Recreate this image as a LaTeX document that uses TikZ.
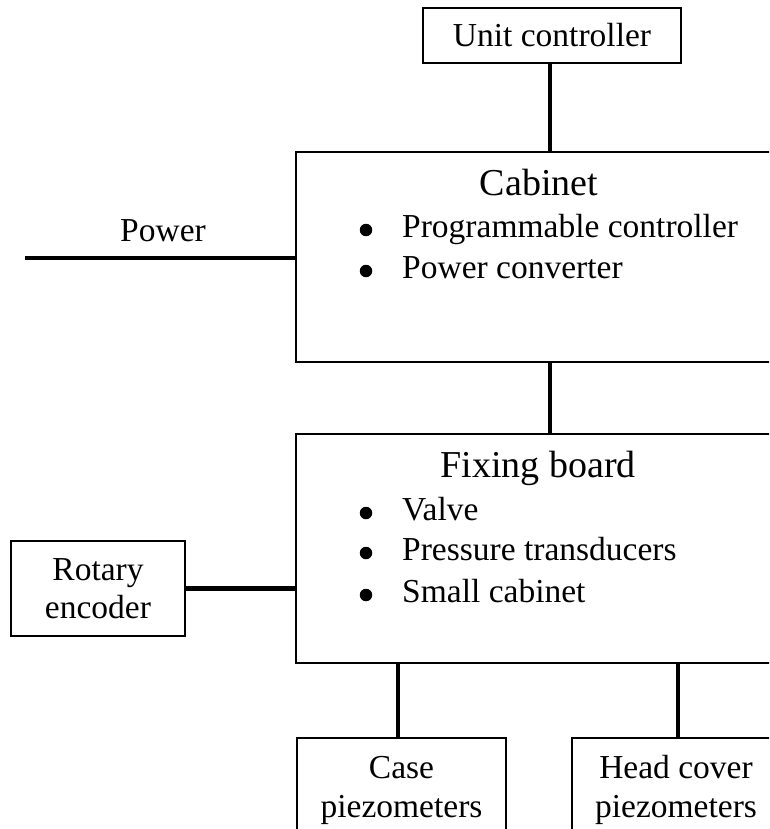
\documentclass[tikz,border=0pt]{standalone}
\usepackage{fontspec}
\setmainfont{Liberation Serif}
\begin{document}
\begin{tikzpicture}[x=1pt,y=-1pt,
  box/.style={draw,line width=1.6pt,rectangle,inner sep=0pt},
  conn/.style={line width=4.5pt},
  txt/.style={inner sep=0pt,anchor=base,font=\fontsize{33.5}{40}\selectfont},
  ttl/.style={inner sep=0pt,anchor=base,font=\fontsize{38}{44}\selectfont},
  itm/.style={inner sep=0pt,anchor=base west,font=\fontsize{33.5}{40}\selectfont},
  bul/.style={circle,fill,inner sep=0pt,minimum size=12.5pt}]
\useasboundingbox (0,0) rectangle (769,829);
\clip (0,0) rectangle (769,829);
% boxes
\node[box,minimum width=258pt,minimum height=55pt] (uc) at (552,35.5) {};
\node[box,minimum width=488pt,minimum height=210pt] (cab) at (540,257) {};
\node[box,minimum width=488pt,minimum height=229pt] (fix) at (540,548.5) {};
\node[box,minimum width=174pt,minimum height=95pt] (rot) at (98,588.5) {};
\node[box,minimum width=209pt,minimum height=120pt] (case) at (401.5,798) {};
\node[box,minimum width=212pt,minimum height=120pt] (head) at (678,798) {};
\coordinate (pw) at (25,258);
% texts
\node[txt] (tuc) at (552,47) {Unit controller};
\node[ttl] (tcab) at (539,195) {Cabinet};
\node[bul] (b1) at (366,230) {};
\node[itm] (i1) at (402,237) {Programmable controller};
\node[bul] (b2) at (366,271) {};
\node[itm] (i2) at (402,278) {Power converter};
\node[txt] (tpw) at (163,241) {Power};
\node[ttl] (tfix) at (538,477) {Fixing board};
\node[bul] (b3) at (366,513) {};
\node[itm] (i3) at (402,520) {Valve};
\node[bul] (b4) at (366,553) {};
\node[itm] (i4) at (402,560) {Pressure transducers};
\node[bul] (b5) at (366,595) {};
\node[itm] (i5) at (402,602) {Small cabinet};
\node[txt] (tr1) at (98,580) {Rotary};
\node[txt] (tr2) at (98,618) {encoder};
\node[txt] (tc1) at (401.5,778) {Case};
\node[txt] (tc2) at (401.5,817) {piezometers};
\node[txt] (th1) at (676,778) {Head cover};
\node[txt] (th2) at (676,817) {piezometers};
% connectors
\draw[conn] (uc.south -| 550,0) -- (cab.north -| 550,0);
\draw[conn] (cab.south -| 550,0) -- (fix.north -| 550,0);
\draw[conn] (pw) -- (pw -| cab.west);
\draw[conn] (rot.east) -- (rot.east -| fix.west);
\draw[conn] (fix.south -| 398,0) -- (case.north -| 398,0);
\draw[conn] (fix.south -| head.north) -- (head.north);
\end{tikzpicture}
\end{document}
